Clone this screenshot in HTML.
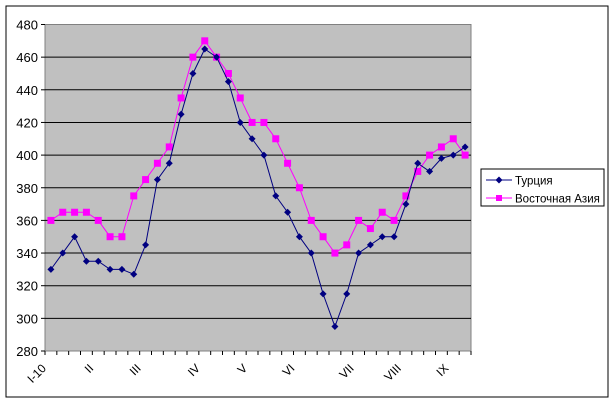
<!DOCTYPE html>
<html><head><meta charset="utf-8"><style>body{margin:0;background:#fff}</style></head><body>
<svg width="616" height="404" xmlns="http://www.w3.org/2000/svg" font-family="Liberation Sans, Arial, sans-serif">
<rect x="6" y="6" width="602" height="391" fill="#fff" stroke="#000" stroke-width="1"/>
<rect x="45" y="24.5" width="426" height="326.5" fill="#c0c0c0" stroke="#808080" stroke-width="1"/>
<g id="grid" stroke="#000" stroke-width="1"></g>
<g id="ylab" font-size="13" text-anchor="end" fill="#000"></g>
<g id="xt" stroke="#000"></g>
<g id="xl" font-size="12" fill="#000"></g>
<polyline id="l2" fill="none" stroke="#ff00ff" stroke-width="1"/>
<g id="m2" fill="#ff00ff"></g>
<polyline id="l1" fill="none" stroke="#000080" stroke-width="1"/>
<g id="m1" fill="#000080"></g>
<rect x="481" y="169" width="123" height="37" fill="#fff" stroke="#000"/>
<line x1="486" y1="180" x2="512" y2="180" stroke="#000080"/>
<path d="M499,176.5 L502.5,180 L499,183.5 L495.5,180Z" fill="#000080"/>
<text x="515" y="184.5" font-size="11.5">Турция</text>
<line x1="486" y1="198" x2="512" y2="198" stroke="#ff00ff"/>
<rect x="496" y="195" width="6" height="6" fill="#ff00ff"/>
<text x="515" y="202.5" font-size="11.5">Восточная Азия</text>
</svg>
<script>
const NS="http://www.w3.org/2000/svg";
function el(t,a,p,txt){const e=document.createElementNS(NS,t);for(const k in a)e.setAttribute(k,a[k]);if(txt)e.textContent=txt;document.getElementById(p).appendChild(e);}
const y=v=>351-(v-280)*326.5/200;
for(let v=280;v<=480;v+=20){if(v>280&&v<480)el('line',{x1:45,x2:471,y1:y(v),y2:y(v)},'grid');el('line',{x1:41,x2:45,y1:y(v),y2:y(v)},'grid');el('text',{x:38,y:y(v)+5},'ylab',String(v));}
const w=426/36;
for(let i=0;i<=36;i++){const x=45+i*w;el('line',{x1:x,x2:x,y1:351,y2:355},'xt');}
const labs={0:'I-10',4:'II',8:'III',13:'IV',17:'V',21:'VI',26:'VII',30:'VIII',34:'IX'};
for(const i in labs){const x=45+(+i+0.5)*w-4,yy=369;el('text',{x:x,y:yy,'text-anchor':'end',transform:`rotate(-45 ${x} ${yy})`},'xl',labs[i]);}
const t=[330,340,350,335,335,330,330,327,345,385,395,425,450,465,460,445,420,410,400,375,365,350,340,315,295,315,340,345,350,350,370,395,390,398,400,405];
const a=[360,365,365,365,360,350,350,375,385,395,405,435,460,470,460,450,435,420,420,410,395,380,360,350,340,345,360,355,365,360,375,390,400,405,410,400];
const px=i=>45+(i+0.5)*w;
document.getElementById('l1').setAttribute('points',t.map((v,i)=>px(i)+','+y(v)).join(' '));
document.getElementById('l2').setAttribute('points',a.map((v,i)=>px(i)+','+y(v)).join(' '));
a.forEach((v,i)=>el('rect',{x:px(i)-3.5,y:y(v)-3.5,width:7,height:7},'m2'));
t.forEach((v,i)=>{const x=px(i),yy=y(v);el('path',{d:`M${x},${yy-3.5}L${x+3.5},${yy}L${x},${yy+3.5}L${x-3.5},${yy}Z`},'m1');});
</script>
</body></html>
